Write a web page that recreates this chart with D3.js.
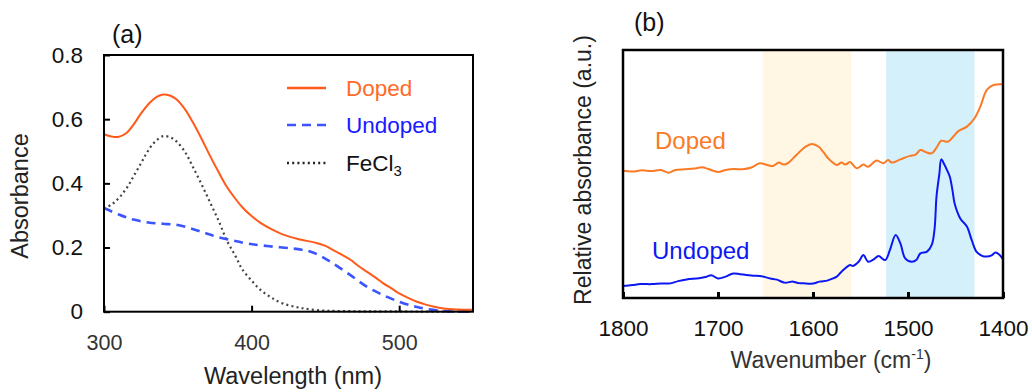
<!DOCTYPE html>
<html>
<head>
<meta charset="utf-8">
<script src="https://cdn.jsdelivr.net/npm/d3@7"></script>
<style>
  body { margin: 0; background: #fff; }
  svg text { font-family: "Liberation Sans", Arial, sans-serif; }
</style>
</head>
<body>
<div id="display"></div>
<script>
// ---- panel (a) UV-vis data ----
const uvDoped = [
  [300, 0.553], [305, 0.546], [310, 0.545], [315, 0.556], [320, 0.583], [325, 0.617],
  [331, 0.651], [336, 0.670], [340, 0.677], [345, 0.673], [349, 0.662], [355, 0.630],
  [360, 0.592], [366, 0.540], [372, 0.484], [378, 0.432], [383, 0.391], [389, 0.352],
  [394, 0.324], [400, 0.298], [406, 0.277], [414, 0.256], [421, 0.241], [432, 0.226],
  [444, 0.214], [450, 0.205], [455, 0.193], [461, 0.178], [467, 0.162], [472, 0.144],
  [478, 0.125], [484, 0.106], [489, 0.089], [495, 0.072], [500, 0.057], [506, 0.043],
  [512, 0.031], [518, 0.022], [523, 0.016], [530, 0.010], [540, 0.007], [550, 0.006]
];
const uvUndoped = [
  [300, 0.323], [310, 0.303], [320, 0.287], [330, 0.278], [340, 0.274], [350, 0.270],
  [360, 0.258], [368, 0.246], [376, 0.234], [387, 0.222], [398, 0.212], [412, 0.204],
  [426, 0.198], [434, 0.193], [440, 0.187], [447, 0.173], [455, 0.151], [466, 0.117],
  [478, 0.078], [489, 0.052], [500, 0.031], [510, 0.017], [519, 0.008], [534, 0.001], [550, 0.0]
];
const uvFeCl3 = [
  [300, 0.320], [306, 0.337], [311, 0.359], [316, 0.390], [320, 0.422], [325, 0.462],
  [329, 0.495], [334, 0.527], [340, 0.547], [345, 0.543], [349, 0.531], [355, 0.497],
  [360, 0.453], [366, 0.398], [372, 0.339], [378, 0.280], [383, 0.224], [389, 0.174],
  [394, 0.130], [400, 0.097], [406, 0.068], [413, 0.045], [421, 0.026], [432, 0.013],
  [444, 0.005], [460, 0.002], [490, 0.001], [550, 0.0]
];
const uvXTicks = [300, 400, 500];
const uvYTicks = [0, 0.2, 0.4, 0.6, 0.8];

// ---- panel (b) IR data (relative absorbance, a.u.) ----
const irDoped = [
  [1800, 51.3], [1790, 51.0], [1780, 51.5], [1770, 51.2], [1760, 51.6], [1752, 50.5],
  [1745, 51.6], [1735, 51.9], [1725, 52.2], [1717, 52.7], [1710, 52.0], [1700, 50.8],
  [1692, 51.6], [1683, 52.0], [1674, 51.9], [1665, 52.6], [1656, 54.3], [1648, 53.6],
  [1642, 53.2], [1636, 54.6], [1631, 53.8], [1626, 54.5], [1621, 56.3], [1614, 59.0],
  [1607, 61.2], [1601, 62.1], [1594, 61.0], [1589, 58.8], [1584, 56.3], [1579, 54.6],
  [1575, 53.6], [1570, 54.6], [1566, 53.8], [1561, 54.8], [1554, 52.3], [1547, 53.8],
  [1542, 52.9], [1533, 55.4], [1526, 54.3], [1521, 55.6], [1517, 54.6], [1508, 55.9],
  [1498, 57.3], [1492, 57.8], [1487, 59.7], [1481, 58.8], [1475, 58.3], [1470, 60.6],
  [1465, 63.4], [1458, 63.0], [1452, 65.2], [1447, 67.3], [1438, 69.1], [1430, 72.5],
  [1424, 77.1], [1417, 83.9], [1410, 85.9], [1400, 86.2]
];
const irUndoped = [
  [1800, 4.8], [1790, 5.2], [1782, 5.6], [1770, 5.6], [1760, 5.8], [1750, 5.9],
  [1742, 6.8], [1733, 7.5], [1720, 8.0], [1712, 8.6], [1707, 9.2], [1700, 7.9],
  [1692, 8.6], [1684, 9.9], [1677, 9.6], [1670, 9.3], [1663, 9.0], [1656, 8.9],
  [1645, 7.9], [1638, 7.4], [1630, 6.2], [1621, 6.6], [1615, 6.0], [1610, 5.9],
  [1600, 5.8], [1593, 6.6], [1585, 7.0], [1579, 7.9], [1575, 8.6], [1570, 10.6],
  [1561, 13.3], [1558, 12.9], [1552, 14.6], [1547, 17.3], [1542, 14.6], [1536, 15.6],
  [1531, 16.9], [1524, 15.3], [1519, 19.4], [1513, 25.4], [1508, 22.0], [1503, 16.0],
  [1496, 14.6], [1491, 15.4], [1487, 18.0], [1480, 18.7], [1475, 21.4], [1472, 28.0],
  [1470, 40.9], [1467, 50.0], [1465, 55.9], [1462, 54.0], [1459, 51.6], [1456, 48.9],
  [1453, 43.0], [1451, 38.2], [1445, 32.1], [1438, 28.8], [1433, 23.4], [1428, 18.7],
  [1422, 17.0], [1417, 16.7], [1412, 17.2], [1408, 18.3], [1404, 17.5], [1400, 15.6]
];
const irXTicks = [1800, 1700, 1600, 1500, 1400];
const irBands = [
  {from: 1653, to: 1560, color: '#fff6e4'},
  {from: 1523, to: 1430, color: '#d4f0fa'}
];

const svg = d3.select('#display').append('svg')
  .attr('width', 1032).attr('height', 392);

// ================= panel (a) =================
const a = {left: 104, right: 473, top: 55, bottom: 311.7};
const xA = d3.scaleLinear().domain([300, 550]).range([a.left, a.right]);
const yA = d3.scaleLinear().domain([0, 0.8]).range([a.bottom, a.top]);

const gA = svg.append('g');

gA.append('g')
  .attr('transform', `translate(0,${a.bottom})`)
  .call(d3.axisBottom(xA).tickValues(uvXTicks).tickSize(-6).tickPadding(23))
  .call(g => g.select('.domain').remove())
  .call(g => g.selectAll('line').attr('stroke', '#000').attr('stroke-width', 2))
  .call(g => g.selectAll('text').attr('font-size', 21.5).attr('fill', '#333')
    .attr('font-family', 'Liberation Sans, Arial, sans-serif'));

gA.append('g')
  .attr('transform', `translate(${a.left},0)`)
  .call(d3.axisLeft(yA).tickValues(uvYTicks).tickSize(-6).tickPadding(21)
    .tickFormat(d => d === 0 ? '0' : d3.format('.1f')(d)))
  .call(g => g.select('.domain').remove())
  .call(g => g.selectAll('line').attr('stroke', '#000').attr('stroke-width', 2))
  .call(g => g.selectAll('text').attr('font-size', 22.5).attr('fill', '#111')
    .attr('font-family', 'Liberation Sans, Arial, sans-serif'));

const lineA = d3.line().x(d => xA(d[0])).y(d => yA(d[1])).curve(d3.curveCatmullRom.alpha(0.5));

gA.append('path').datum(uvFeCl3).attr('d', lineA)
  .attr('fill', 'none').attr('stroke', '#444').attr('stroke-width', 2.2)
  .attr('stroke-dasharray', '2,3.2');
gA.append('path').datum(uvUndoped).attr('d', lineA)
  .attr('fill', 'none').attr('stroke', '#3a55ff').attr('stroke-width', 2.6)
  .attr('stroke-dasharray', '9,6');
gA.append('path').datum(uvDoped).attr('d', lineA)
  .attr('fill', 'none').attr('stroke', '#ff5a1a').attr('stroke-width', 2);

gA.append('rect')
  .attr('x', a.left).attr('y', a.top)
  .attr('width', a.right - a.left).attr('height', a.bottom - a.top)
  .attr('fill', 'none').attr('stroke', '#000').attr('stroke-width', 2);

// legend
const legend = [
  {name: 'Doped', color: '#ff5a1a', text: '#ff6a28', dash: null, y: 88},
  {name: 'Undoped', color: '#3a55ff', text: '#1a1aff', dash: '9,6', y: 125},
  {name: 'FeCl', color: '#222', text: '#111', dash: '2,3.2', y: 163, sub: '3'}
];
legend.forEach(l => {
  gA.append('line').attr('x1', 287).attr('x2', 326).attr('y1', l.y).attr('y2', l.y)
    .attr('stroke', l.color).attr('stroke-width', 2.4)
    .attr('stroke-dasharray', l.dash);
  const t = gA.append('text').attr('x', 346).attr('y', l.y + 8)
    .attr('font-size', 22.5).attr('fill', l.text).text(l.name);
  if (l.sub) t.append('tspan').attr('font-size', 15).attr('dy', 5).text(l.sub);
});

gA.append('text').attr('x', 112).attr('y', 43).attr('font-size', 25).attr('fill', '#111').text('(a)');
gA.append('text').attr('x', 293).attr('y', 384).attr('text-anchor', 'middle')
  .attr('font-size', 23.5).attr('fill', '#222').text('Wavelength (nm)');
gA.append('text').attr('transform', 'translate(28,196) rotate(-90)')
  .attr('text-anchor', 'middle').attr('font-size', 23.5).attr('fill', '#222').text('Absorbance');

// ================= panel (b) =================
const b = {left: 623, right: 1003, top: 50, bottom: 298};
const xB = d3.scaleLinear().domain([1800, 1400]).range([b.left, b.right]);
const yB = d3.scaleLinear().domain([0, 100]).range([b.bottom, b.top]);

const gB = svg.append('g');

gB.selectAll('rect.band').data(irBands).join('rect')
  .attr('class', 'band')
  .attr('x', d => xB(d.from)).attr('y', b.top)
  .attr('width', d => xB(d.to) - xB(d.from)).attr('height', b.bottom - b.top)
  .attr('fill', d => d.color);

gB.append('g')
  .attr('transform', `translate(0,${b.bottom})`)
  .call(d3.axisBottom(xB).tickValues(irXTicks).tickSize(-6).tickPadding(22)
    .tickFormat(d3.format('d')))
  .call(g => g.select('.domain').remove())
  .call(g => g.selectAll('line').attr('stroke', '#000').attr('stroke-width', 3))
  .call(g => g.selectAll('text').attr('font-size', 22.5).attr('fill', '#111')
    .attr('font-family', 'Open Sans, sans-serif'));

const lineB = d3.line().x(d => xB(d[0])).y(d => yB(d[1])).curve(d3.curveCatmullRom);

gB.append('path').datum(irDoped).attr('d', lineB)
  .attr('fill', 'none').attr('stroke', '#fb7a26').attr('stroke-width', 2);
gB.append('path').datum(irUndoped).attr('d', lineB)
  .attr('fill', 'none').attr('stroke', '#0c18f2').attr('stroke-width', 2);

gB.append('rect')
  .attr('x', b.left).attr('y', b.top)
  .attr('width', b.right - b.left).attr('height', b.bottom - b.top)
  .attr('fill', 'none').attr('stroke', '#000').attr('stroke-width', 2.5);

gB.append('text').attr('x', 655).attr('y', 149)
  .attr('font-family', 'Open Sans, sans-serif').attr('font-size', 24)
  .attr('fill', '#fb7a26').text('Doped');
gB.append('text').attr('x', 652).attr('y', 259)
  .attr('font-family', 'Open Sans, sans-serif').attr('font-size', 24)
  .attr('fill', '#0c18f2').text('Undoped');

gB.append('text').attr('x', 634).attr('y', 31).attr('font-size', 25).attr('fill', '#111').text('(b)');
const tB = gB.append('text').attr('x', 831).attr('y', 368).attr('text-anchor', 'middle')
  .attr('font-size', 23).attr('fill', '#333').text('Wavenumber (cm');
tB.append('tspan').attr('font-size', 14).attr('dy', -9).text('-1');
tB.append('tspan').attr('dy', 9).text(')');
gB.append('text').attr('transform', 'translate(591,170) rotate(-90)')
  .attr('text-anchor', 'middle').attr('font-size', 23).attr('fill', '#222')
  .text('Relative absorbance (a.u.)');
</script>
</body>
</html>
